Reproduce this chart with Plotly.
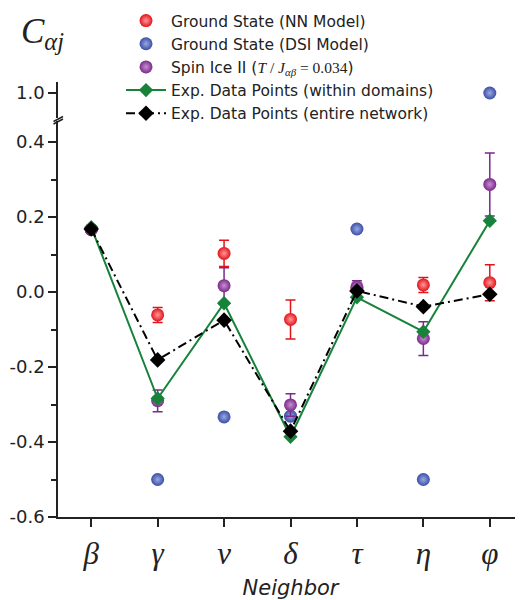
import plotly.graph_objects as go

# ---------------- data ----------------
neighbors = ["β", "γ", "ν", "δ", "τ", "η", "φ"]
xpos = [1, 2, 3, 4, 5, 6, 7]

nn_model = [0.167, -0.061, 0.103, -0.073, 0.008, 0.019, 0.025]
nn_err = [0.0, 0.020, 0.035, 0.052, 0.006, 0.020, 0.048]

dsi_model = [0.167, -0.5, -0.333, -0.331, 0.168, -0.5, 1.0]

spin_ice2 = [0.167, -0.290, 0.017, -0.301, 0.014, -0.124, 0.287]
spin_ice2_err = [0.0, 0.029, 0.048, 0.030, 0.016, 0.045, 0.084]

exp_domains = [0.173, -0.284, -0.030, -0.386, -0.014, -0.106, 0.190]
exp_network = [0.168, -0.181, -0.075, -0.371, 0.003, -0.039, -0.006]

low_ticks = [-0.6, -0.4, -0.2, 0.0, 0.2, 0.4]
low_ticklabels = ["-0.6", "-0.4", "-0.2", "0.0", "0.2", "0.4"]
up_ticks = [1.0]
up_ticklabels = ["1.0"]

# ---------------- geometry (page pixels; page body has an 8px margin) ----------------
OFF = 8
W, H = 523 - OFF, 600 - OFF
AX_LEFT, AX_BOTTOM, AX_TOP, AX_RIGHT = 58, 517, 82, 523   # page px
L = AX_LEFT - OFF
T = AX_TOP - OFF
B = H - (AX_BOTTOM - OFF)
R = W - (AX_RIGHT - OFF)
PH = H - T - B
PW = W - L - R
PX_PER_UNIT = 375.0

low_top_px = 121       # page px, top of lower segment
up_bot_px = 118        # page px, bottom of upper segment
y1_px_of_one = 93      # page px, position of 1.0

low_dom = [0, (AX_BOTTOM - low_top_px) / PH]
up_dom = [(AX_BOTTOM - up_bot_px) / PH, 1]
low_range = [-0.6, -0.6 + (AX_BOTTOM - low_top_px) / PX_PER_UNIT]
up_range = [1.0 - (up_bot_px - y1_px_of_one) / PX_PER_UNIT,
            1.0 + (y1_px_of_one - AX_TOP) / PX_PER_UNIT]


def px_x(p):
    return (p - AX_LEFT) / PW


def px_y(p):
    return (AX_BOTTOM - p) / PH


RED = "#e3131b"
BLUE = "#3a4ea6"
PURPLE = "#7a2a8a"
GREEN = "#17823a"
AXC = "#222222"
SANS = "DejaVu Sans"
SERIF = "Liberation Serif, Times New Roman"

fig = go.Figure()

ball = dict(size=13, line=dict(width=0))

fig.add_trace(go.Scatter(
    x=xpos, y=nn_model, mode="markers", name="Ground State (NN Model)",
    marker=dict(color=RED, gradient=dict(type="radial", color="#ff9a9a"), **ball),
    error_y=dict(type="data", array=nn_err, color=RED, thickness=1.5, width=5),
    yaxis="y", cliponaxis=True,
))

fig.add_trace(go.Scatter(
    x=xpos, y=dsi_model, mode="markers", name="Ground State (DSI Model)",
    marker=dict(color=BLUE, gradient=dict(type="radial", color="#9aa8e0"), **ball),
    yaxis="y", cliponaxis=True,
))
fig.add_trace(go.Scatter(
    x=xpos, y=dsi_model, mode="markers", name="Ground State (DSI Model)",
    marker=dict(color=BLUE, gradient=dict(type="radial", color="#9aa8e0"), **ball),
    yaxis="y2", cliponaxis=True, showlegend=False,
))

fig.add_trace(go.Scatter(
    x=xpos, y=spin_ice2, mode="markers",
    name="Spin Ice II (<span style='font-family:Liberation Serif'><i>T</i> / <i>J</i><sub><i>αβ</i></sub> = 0.034</span>)",
    marker=dict(color=PURPLE, gradient=dict(type="radial", color="#c590d0"), **ball),
    error_y=dict(type="data", array=spin_ice2_err, color=PURPLE, thickness=1.5, width=5),
    yaxis="y", cliponaxis=True,
))

fig.add_trace(go.Scatter(
    x=xpos, y=exp_domains, mode="lines+markers",
    name="Exp. Data Points (within domains)",
    line=dict(color=GREEN, width=2),
    marker=dict(symbol="diamond", size=11, color=GREEN),
    yaxis="y",
))

fig.add_trace(go.Scatter(
    x=xpos, y=exp_network, mode="lines+markers",
    name="Exp. Data Points (entire network)",
    line=dict(color="black", width=2, dash="9px,4px,2px,4px"),
    marker=dict(symbol="diamond", size=12, color="black"),
    yaxis="y",
))

axis_common = dict(
    showline=True, linecolor=AXC, linewidth=1.5,
    ticks="outside", ticklen=8, tickwidth=1.5, tickcolor=AXC,
    showgrid=False, zeroline=False,
)
ytickfont = dict(family=SANS, size=18, color="#222")

fig.update_layout(
    width=W, height=H,
    margin=dict(l=L, r=R, t=T, b=B, autoexpand=False),
    paper_bgcolor="white", plot_bgcolor="white",
    xaxis=dict(
        range=[0.5, 7.5], tickvals=xpos,
        ticktext=["<i>%s</i>" % n for n in neighbors],
        anchor="y",
        tickfont=dict(family=SERIF, size=31, color="#222"),
        title=dict(text="<i>Neighbor</i>", standoff=10,
                   font=dict(family=SANS, size=21, color="#222")),
        **axis_common,
    ),
    yaxis=dict(
        domain=low_dom, range=low_range, anchor="x",
        tickvals=low_ticks, ticktext=low_ticklabels, tickfont=ytickfont,
        minor=dict(dtick=0.1, tick0=0, ticks="outside", ticklen=5,
                   tickwidth=1.5, tickcolor=AXC, showgrid=False),
        **axis_common,
    ),
    yaxis2=dict(
        domain=up_dom, range=up_range, anchor="x",
        tickvals=up_ticks, ticktext=up_ticklabels, tickfont=ytickfont,
        **axis_common,
    ),
    legend=dict(
        x=px_x(121), y=px_y(4), xanchor="left", yanchor="top",
        bgcolor="rgba(0,0,0,0)", itemwidth=40,
        font=dict(family=SANS, size=15.5, color="#222"),
        tracegroupgap=0,
    ),
    showlegend=True,
    annotations=[dict(
        text="<i>C</i><sub><i>αj</i></sub>",
        xref="paper", yref="paper", x=px_x(19), y=px_y(33),
        xanchor="left", yanchor="middle", showarrow=False,
        font=dict(family=SERIF, size=35, color="#222"),
    )],
    shapes=[
        dict(type="line", xref="paper", yref="paper",
             x0=px_x(53.5), y0=px_y(121.5), x1=px_x(63), y1=px_y(116.5),
             line=dict(color=AXC, width=1.5)),
        dict(type="line", xref="paper", yref="paper",
             x0=px_x(53.5), y0=px_y(124), x1=px_x(63), y1=px_y(119),
             line=dict(color=AXC, width=1.5)),
    ],
)

fig.write_html("out.html")
